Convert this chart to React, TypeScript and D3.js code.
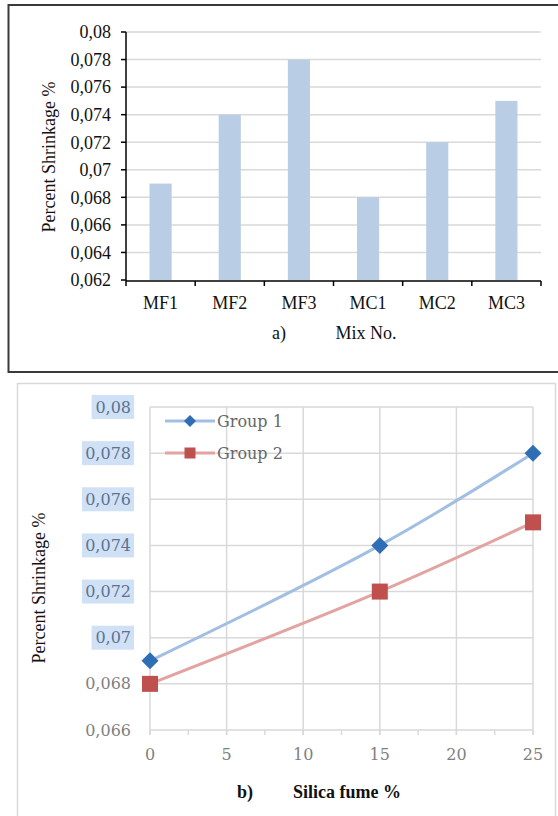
import React from "react";
import * as d3 from "d3";

// chart a) bars
const mixes = ["MF1", "MF2", "MF3", "MC1", "MC2", "MC3"];
const shrinkage = [0.069, 0.074, 0.078, 0.068, 0.072, 0.075];
const topTicks = [0.062, 0.064, 0.066, 0.068, 0.07, 0.072, 0.074, 0.076, 0.078, 0.08];
const topTickLabels = ["0,062", "0,064", "0,066", "0,068", "0,07", "0,072", "0,074", "0,076", "0,078", "0,08"];

// chart b) lines
const silicaFume = [0, 15, 25];
const group1 = [0.069, 0.074, 0.078];
const group2 = [0.068, 0.072, 0.075];
const seriesNames = ["Group 1", "Group 2"];
const botXTicks = [0, 5, 10, 15, 20, 25];
const botYTicks = [0.066, 0.068, 0.07, 0.072, 0.074, 0.076, 0.078, 0.08];
const botYTickLabels = ["0,066", "0,068", "0,07", "0,072", "0,074", "0,076", "0,078", "0,08"];
const highlighted = [false, false, true, true, true, true, true, true];

const times = { fontFamily: "Liberation Serif" };
const cambria = { fontFamily: "DejaVu Serif" };

const App = () => {
  // top panel scales
  const xTop = d3.scaleBand<string>().domain(mixes).range([126, 541]).paddingInner(0.68).paddingOuter(0.34);
  const yTop = d3.scaleLinear().domain([0.062, 0.08]).range([280, 32]);
  const step = xTop.step();
  const x0 = xTop.range()[0];

  // bottom panel scales
  const xBot = d3.scaleLinear().domain([0, 25]).range([150, 533]);
  const yBot = d3.scaleLinear().domain([0.066, 0.08]).range([730, 407]);
  const minor = d3.range(0, 25.01, 2.5);

  const line = d3.line<number>()
    .x((d, i) => xBot(silicaFume[i]))
    .y(d => yBot(d))
    .curve(d3.curveCatmullRom.alpha(0.5));

  const blue = "#2f6db5";
  const red = "#c0504d";
  const diamond = (cx: number, cy: number, r: number) =>
    `M${cx},${cy - r}L${cx + r},${cy}L${cx},${cy + r}L${cx - r},${cy}Z`;

  return (
    <svg width={558} height={816} style={{ position: "absolute", left: 0, top: 0, background: "#fff" }}>
      {/* ---------- panel a ---------- */}
      <rect x={8.5} y={5} width={580} height={367} fill="none" stroke="#3a3a3a" strokeWidth={2} />
      {topTicks.map((t, i) => (
        <g key={"gt" + i}>
          {i > 0 && <line x1={126} x2={541} y1={yTop(t)} y2={yTop(t)} stroke="#d9d9d9" strokeWidth={1.5} />}
          <line x1={121} x2={126} y1={yTop(t)} y2={yTop(t)} stroke="#000" strokeWidth={1.5} />
          <text x={111} y={yTop(t)} dy="0.35em" textAnchor="end" style={times} fontSize={18} fill="#111">
            {topTickLabels[i]}
          </text>
        </g>
      ))}
      {mixes.map((m, i) => (
        <rect key={m} x={xTop(m)} y={yTop(shrinkage[i])} width={xTop.bandwidth()}
          height={yTop(0.062) - yTop(shrinkage[i])} fill="#b9cde5" />
      ))}
      <line x1={126} x2={126} y1={32} y2={281} stroke="#000" strokeWidth={1.5} />
      <line x1={126} x2={541} y1={281} y2={281} stroke="#000" strokeWidth={1.5} />
      {d3.range(mixes.length + 1).map(i => (
        <line key={"xt" + i} x1={x0 + i * step} x2={x0 + i * step} y1={281} y2={286} stroke="#000" strokeWidth={1.5} />
      ))}
      {mixes.map(m => (
        <text key={"l" + m} x={(xTop(m) as number) + xTop.bandwidth() / 2} y={303} dy="0.35em"
          textAnchor="middle" style={times} fontSize={18} fill="#111">{m}</text>
      ))}
      <text x={279} y={333} dy="0.35em" textAnchor="middle" style={times} fontSize={18} fill="#111">a)</text>
      <text x={366} y={333} dy="0.35em" textAnchor="middle" style={times} fontSize={18} fill="#111">Mix No.</text>
      <text transform="translate(49,157) rotate(-90)" textAnchor="middle" dy="0.35em" style={times}
        fontSize={18} fill="#111">Percent Shrinkage %</text>

      {/* ---------- panel b ---------- */}
      <rect x={17.5} y={383.5} width={538} height={450} fill="none" stroke="#d9d9d9" strokeWidth={1.5} />
      {botYTicks.map((t, i) => (
        <line key={"gy" + i} x1={150} x2={533} y1={yBot(t)} y2={yBot(t)} stroke="#d9d9d9" strokeWidth={1.5} />
      ))}
      {botXTicks.map(t => (
        <line key={"gx" + t} x1={xBot(t)} x2={xBot(t)} y1={407} y2={735} stroke="#d9d9d9" strokeWidth={1.5} />
      ))}
      {minor.map(t => (
        <line key={"mx" + t} x1={xBot(t)} x2={xBot(t)} y1={730} y2={735} stroke="#d9d9d9" strokeWidth={1.5} />
      ))}
      {botYTicks.map((t, i) => {
        const lab = botYTickLabels[i];
        const w = lab.length * 9.6 + 4;
        return (
          <g key={"yl" + i}>
            {highlighted[i] && <rect x={134 - w} y={yBot(t) - 12} width={w} height={24} fill="#d0e1f5" />}
            <text x={131} y={yBot(t)} dy="0.35em" textAnchor="end" style={cambria} fontSize={16}
              fill={highlighted[i] ? "#5d7390" : "#7f7f7f"}>{lab}</text>
          </g>
        );
      })}
      {botXTicks.map(t => (
        <text key={"xl" + t} x={xBot(t)} y={754} dy="0.35em" textAnchor="middle" style={cambria}
          fontSize={16} fill="#7f7f7f">{t}</text>
      ))}

      <path d={line(group1) as string} fill="none" stroke="#a2bfe3" strokeWidth={3} />
      <path d={line(group2) as string} fill="none" stroke="#e2a3a1" strokeWidth={3} />
      {group1.map((v, i) => (
        <path key={"d" + i} d={diamond(xBot(silicaFume[i]), yBot(v), 8.5)} fill={blue} />
      ))}
      {group2.map((v, i) => (
        <rect key={"s" + i} x={xBot(silicaFume[i]) - 8} y={yBot(v) - 8} width={16} height={16} fill={red} />
      ))}

      {/* legend */}
      <line x1={165} x2={215} y1={421} y2={421} stroke="#a2bfe3" strokeWidth={3} />
      <path d={diamond(190, 421, 6)} fill={blue} />
      <text x={217} y={421} dy="0.35em" style={cambria} fontSize={16} fill="#666">{seriesNames[0]}</text>
      <line x1={165} x2={215} y1={453} y2={453} stroke="#e2a3a1" strokeWidth={3} />
      <rect x={184.5} y={447.5} width={11} height={11} fill={red} />
      <text x={217} y={453} dy="0.35em" style={cambria} fontSize={16} fill="#666">{seriesNames[1]}</text>

      <text transform="translate(39,588) rotate(-90)" textAnchor="middle" dy="0.35em" style={times}
        fontSize={18} fill="#111">Percent Shrinkage %</text>
      <text x={245} y={792} dy="0.35em" textAnchor="middle" style={times} fontSize={18} fontWeight={600}
        fill="#111">b)</text>
      <text x={347} y={792} dy="0.35em" textAnchor="middle" style={times} fontSize={18} fontWeight={600}
        fill="#111">Silica fume %</text>
    </svg>
  );
};

export default App;
